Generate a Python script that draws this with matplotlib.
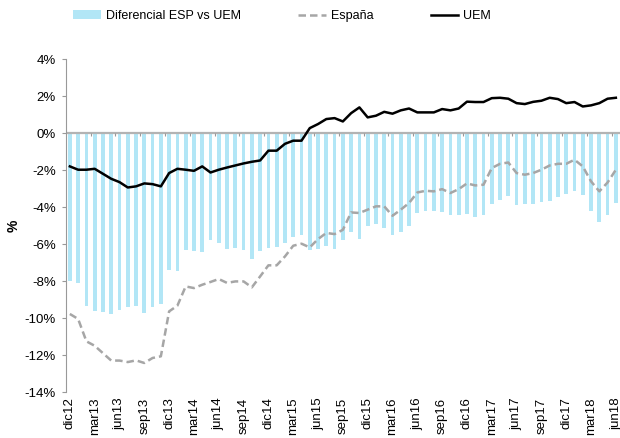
import matplotlib
matplotlib.use("Agg")
import matplotlib.pyplot as plt
import numpy as np
from matplotlib.ticker import FuncFormatter

plt.rcParams["font.family"] = ["Liberation Sans", "DejaVu Sans"]

# monthly data, dic12 .. jun18
months = ["ene", "feb", "mar", "abr", "may", "jun", "jul", "ago", "sep", "oct", "nov", "dic"]
labels = ["dic12"] + [f"{m}{y}" for y in range(13, 19) for m in months][:66]

espana = [-9.78, -10.05, -11.26, -11.5, -11.9, -12.3, -12.3, -12.38, -12.29, -12.43, -12.16, -12.07,
          -9.64, -9.33, -8.29, -8.38, -8.2, -8.05, -7.89, -8.1, -8.02, -8.02, -8.34, -7.75,
          -7.15, -7.15, -6.67, -6.09, -5.98, -6.18, -5.73, -5.4, -5.46, -5.23, -4.29, -4.32,
          -4.14, -3.96, -3.96, -4.47, -4.14, -3.78, -3.21, -3.12, -3.15, -3.03, -3.24, -3.03,
          -2.72, -2.83, -2.79, -1.89, -1.66, -1.59, -2.16, -2.25, -2.16, -1.98, -1.75, -1.66,
          -1.66, -1.44, -1.8, -2.61, -3.15, -2.67, -1.98]
uem = [-1.8, -1.98, -1.98, -1.93, -2.2, -2.47, -2.65, -2.94, -2.88, -2.72, -2.76, -2.88,
       -2.16, -1.93, -1.98, -2.04, -1.8, -2.13, -1.98, -1.86, -1.75, -1.64, -1.55, -1.48,
       -0.95, -0.95, -0.58, -0.41, -0.41, 0.27, 0.49, 0.76, 0.81, 0.63, 1.08, 1.39,
       0.85, 0.94, 1.15, 1.05, 1.23, 1.33, 1.12, 1.12, 1.12, 1.3, 1.23, 1.33,
       1.7, 1.68, 1.68, 1.89, 1.91, 1.86, 1.62, 1.57, 1.69, 1.75, 1.91, 1.84,
       1.62, 1.68, 1.44, 1.5, 1.62, 1.86, 1.91]
diferencial = [-8.02, -8.1, -9.33, -9.6, -9.68, -9.77, -9.55, -9.4, -9.33, -9.73, -9.4, -9.24,
               -7.4, -7.46, -6.3, -6.38, -6.42, -5.77, -5.95, -6.27, -6.22, -6.3, -6.8, -6.36,
               -6.22, -6.16, -5.95, -5.62, -5.53, -6.34, -6.25, -6.1, -6.26, -5.78, -5.35, -5.73,
               -5.05, -4.94, -5.15, -5.53, -5.35, -5.05, -4.32, -4.2, -4.23, -4.29, -4.45, -4.45,
               -4.4, -4.54, -4.45, -3.84, -3.64, -3.42, -3.91, -3.84, -3.84, -3.73, -3.69, -3.46,
               -3.3, -3.15, -3.37, -4.23, -4.81, -4.45, -3.78]

x = np.arange(len(labels))
grey = "#a6a6a6"

fig = plt.figure(figsize=(6.2, 4.38), dpi=100)
ax = fig.add_axes([0.106, 0.105, 0.894, 0.76])

h_bar = ax.bar(x, diferencial, width=0.45, color="#b2e6f6", label="Diferencial ESP vs UEM", zorder=1)
ax.axhline(0, color="#b3b3b3", lw=1.6, zorder=2)
ax.vlines(np.arange(2.5, len(x), 3), -0.17, 0, color="#999999", lw=0.8, zorder=2)
h_esp, = ax.plot(x, espana, color=grey, lw=1.8, ls=(0, (3, 1.6)), label="España", zorder=3)
h_uem, = ax.plot(x, uem, color="black", lw=1.8, label="UEM", zorder=4)

ax.set_xlim(-0.5, len(x) - 0.5)
ax.set_ylim(-14, 4)
ax.set_yticks(np.arange(-14, 5, 2))
ax.yaxis.set_major_formatter(FuncFormatter(lambda v, p: f"{v:.0f}%"))
ax.set_xticks(x[::3])
ax.set_xticklabels(labels[::3], rotation=90, fontsize=9.5)
ax.tick_params(axis="x", length=0, pad=4)
ax.tick_params(axis="y", length=3, color="#999999", labelsize=9.5, pad=4)
for s in ["top", "right", "bottom"]:
    ax.spines[s].set_visible(False)
ax.spines["left"].set_color("#999999")
ax.set_ylabel("%", fontsize=10, fontweight="bold")
ax.yaxis.set_label_coords(-0.082, 0.5)

fig.legend(handles=[h_bar, h_esp, h_uem], loc="center", bbox_to_anchor=(0.455, 0.963), ncol=3,
           frameon=False, fontsize=9, columnspacing=4.6, handlelength=2.2, handletextpad=0.4)

fig.savefig("out.png", dpi=100)
